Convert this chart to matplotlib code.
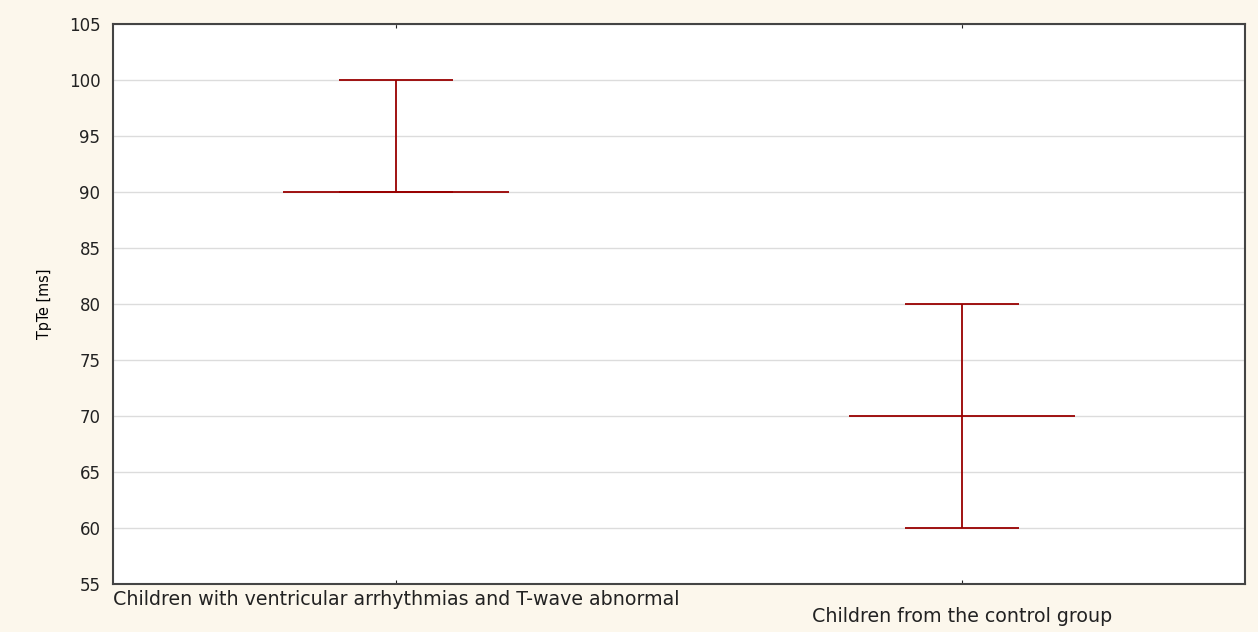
import numpy as np
import matplotlib
matplotlib.use("Agg")
import matplotlib.pyplot as plt

groups = ["Children with ventricular arrhythmias and T-wave abnormal",
          "Children from the control group"]
medians = [90, 70]
upper = [100, 80]
lower = [90, 60]
yticks = [55, 60, 65, 70, 75, 80, 85, 90, 95, 100, 105]

red = "#990000"
bg = "#fcf7ec"
plt.rcParams['font.family'] = ['DejaVu Sans']

fig = plt.figure(figsize=(12.58, 6.32), dpi=100, facecolor=bg)
ax = fig.add_axes([113/1258, 1-584/632, 1132/1258, 560/632])
ax.set_facecolor("white")

x = np.arange(len(groups))
ax.vlines(x, lower, upper, color=red, lw=1.3, zorder=3)
ax.hlines(upper, x - 0.1, x + 0.1, color=red, lw=1.3, zorder=3)
ax.hlines(lower, x - 0.1, x + 0.1, color=red, lw=1.3, zorder=3)
ax.hlines(medians, x - 0.2, x + 0.2, color=red, lw=1.3, zorder=3)

ax.set_xlim(-0.5, 1.5)
ax.set_ylim(55, 105)
ax.set_yticks(yticks)
ax.tick_params(axis='y', length=0, pad=9, labelsize=12, labelcolor="#222222")
ax.set_xticks(x)
ax.set_xticklabels([])
ax.tick_params(axis='x', direction='in', length=3, top=True, color="#222222")
for i, g in enumerate(groups):
    ax.annotate(g, xy=(x[i], 0), xycoords=('data', 'axes fraction'),
                xytext=(0, -11.5 if i == 0 else -23.7), textcoords='offset points',
                ha='center', va='center', fontsize=13.7, color="#222222")

ax.grid(axis='y', color="#dcdcdc", lw=1)
ax.set_axisbelow(True)
for s in ax.spines.values():
    s.set_color("#444444")
    s.set_linewidth(1.5)

ax.set_ylabel("TpTe [ms]", fontsize=11.5, fontstretch='condensed',
              family=['Liberation Sans Narrow', 'DejaVu Sans'], labelpad=12)

fig.savefig("out.png", dpi=100, facecolor=bg)
